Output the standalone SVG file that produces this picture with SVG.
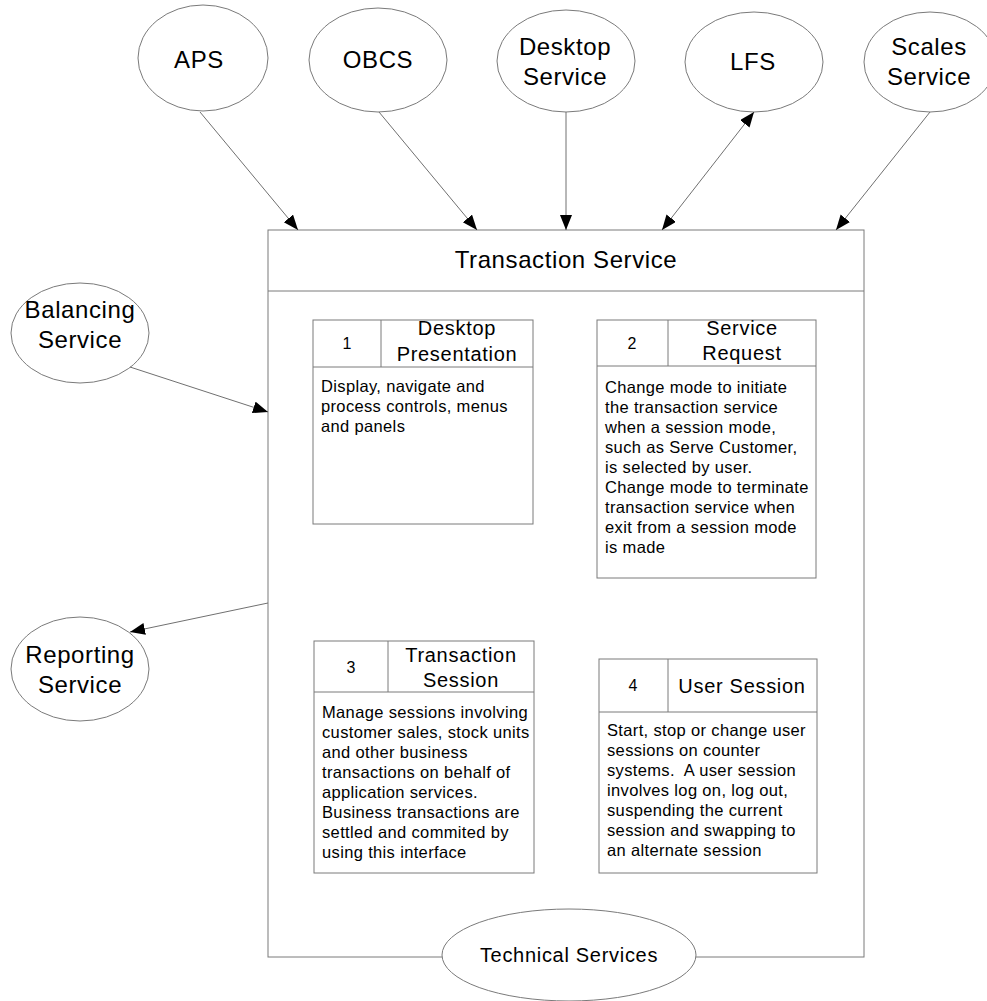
<svg xmlns="http://www.w3.org/2000/svg" width="987" height="1001" viewBox="0 0 987 1001">
  <style>
    .shape { fill: #ffffff; stroke: #7a7a7a; stroke-width: 1; }
    .rule { fill: none; stroke: #7a7a7a; stroke-width: 1; }
    .conn { fill: none; stroke: #707070; stroke-width: 1; }
    text { font-family: "Liberation Sans", Arial, sans-serif; fill: #000000; white-space: pre; }
    .big { font-size: 24px; letter-spacing: 0.6px; text-anchor: middle; }
    .head { font-size: 20px; letter-spacing: 0.7px; text-anchor: middle; }
    .num { font-size: 16px; text-anchor: middle; }
    .body { font-size: 16.5px; letter-spacing: 0.35px; }
  </style>
  <defs>
    <marker id="arrow" markerUnits="userSpaceOnUse" markerWidth="16" markerHeight="14" refX="15" refY="6" orient="auto-start-reverse">
      <path d="M0,0 L15,6 L0,12 Z" fill="#000000"/>
    </marker>
  </defs>

  <!-- Transaction Service container -->
  <g id="transaction-service">
    <rect class="shape" x="268" y="230" width="596" height="727"/>
    <line class="rule" x1="268" y1="291" x2="864" y2="291"/>
    <text class="big" x="566" y="268">Transaction Service</text>
  </g>

  <!-- Component 1 -->
  <g id="desktop-presentation">
    <rect class="shape" x="313" y="320" width="220" height="204"/>
    <line class="rule" x1="313" y1="367" x2="533" y2="367"/>
    <line class="rule" x1="381" y1="320" x2="381" y2="367"/>
    <text class="num" x="347" y="349">1</text>
    <text class="head" x="457" y="335">Desktop</text>
    <text class="head" x="457" y="361">Presentation</text>
    <text class="body" x="321" y="392">Display, navigate and</text>
    <text class="body" x="321" y="412">process controls, menus</text>
    <text class="body" x="321" y="432">and panels</text>
  </g>

  <!-- Component 2 -->
  <g id="service-request">
    <rect class="shape" x="597" y="320" width="219" height="258"/>
    <line class="rule" x1="597" y1="366" x2="816" y2="366"/>
    <line class="rule" x1="668" y1="320" x2="668" y2="366"/>
    <text class="num" x="632" y="349">2</text>
    <text class="head" x="742" y="335">Service</text>
    <text class="head" x="742" y="360">Request</text>
    <text class="body" x="605" y="393">Change mode to initiate</text>
    <text class="body" x="605" y="413">the transaction service</text>
    <text class="body" x="605" y="433">when a session mode,</text>
    <text class="body" x="605" y="453">such as Serve Customer,</text>
    <text class="body" x="605" y="473">is selected by user.</text>
    <text class="body" x="605" y="493">Change mode to terminate</text>
    <text class="body" x="605" y="513">transaction service when</text>
    <text class="body" x="605" y="533">exit from a session mode</text>
    <text class="body" x="605" y="553">is made</text>
  </g>

  <!-- Component 3 -->
  <g id="transaction-session">
    <rect class="shape" x="314" y="641" width="220" height="232"/>
    <line class="rule" x1="314" y1="692" x2="534" y2="692"/>
    <line class="rule" x1="388" y1="641" x2="388" y2="692"/>
    <text class="num" x="351" y="673">3</text>
    <text class="head" x="461" y="662">Transaction</text>
    <text class="head" x="461" y="687">Session</text>
    <text class="body" x="322" y="718">Manage sessions involving</text>
    <text class="body" x="322" y="738">customer sales, stock units</text>
    <text class="body" x="322" y="758">and other business</text>
    <text class="body" x="322" y="778">transactions on behalf of</text>
    <text class="body" x="322" y="798">application services.</text>
    <text class="body" x="322" y="818">Business transactions are</text>
    <text class="body" x="322" y="838">settled and commited by</text>
    <text class="body" x="322" y="858">using this interface</text>
  </g>

  <!-- Component 4 -->
  <g id="user-session">
    <rect class="shape" x="599" y="659" width="218" height="214"/>
    <line class="rule" x1="599" y1="712" x2="817" y2="712"/>
    <line class="rule" x1="668" y1="659" x2="668" y2="712"/>
    <text class="num" x="633" y="691">4</text>
    <text class="head" x="742" y="693">User Session</text>
    <text class="body" x="607" y="736">Start, stop or change user</text>
    <text class="body" x="607" y="756">sessions on counter</text>
    <text class="body" x="607" y="776">systems.  A user session</text>
    <text class="body" x="607" y="796">involves log on, log out,</text>
    <text class="body" x="607" y="816">suspending the current</text>
    <text class="body" x="607" y="836">session and swapping to</text>
    <text class="body" x="607" y="856">an alternate session</text>
  </g>

  <!-- External services -->
  <g id="aps">
    <ellipse class="shape" cx="203" cy="58" rx="65" ry="53"/>
    <text class="big" x="199" y="68">APS</text>
  </g>
  <g id="obcs">
    <ellipse class="shape" cx="378" cy="60" rx="69" ry="52"/>
    <text class="big" x="378" y="68">OBCS</text>
  </g>
  <g id="desktop-service">
    <ellipse class="shape" cx="566" cy="61" rx="69" ry="51"/>
    <text class="big" x="565" y="55">Desktop</text>
    <text class="big" x="565" y="85">Service</text>
  </g>
  <g id="lfs">
    <ellipse class="shape" cx="754" cy="62" rx="69" ry="50"/>
    <text class="big" x="753" y="70">LFS</text>
  </g>
  <g id="scales-service">
    <ellipse class="shape" cx="930" cy="62" rx="66" ry="50"/>
    <text class="big" x="929" y="55">Scales</text>
    <text class="big" x="929" y="85">Service</text>
  </g>
  <g id="balancing-service">
    <ellipse class="shape" cx="80" cy="333" rx="69" ry="50"/>
    <text class="big" x="80" y="318">Balancing</text>
    <text class="big" x="80" y="348">Service</text>
  </g>
  <g id="reporting-service">
    <ellipse class="shape" cx="80" cy="669" rx="69" ry="52"/>
    <text class="big" x="80" y="663">Reporting</text>
    <text class="big" x="80" y="693">Service</text>
  </g>
  <g id="technical-services">
    <ellipse class="shape" cx="569" cy="955" rx="127" ry="46"/>
    <text class="head" x="569" y="962">Technical Services</text>
  </g>

  <!-- Connectors -->
  <g id="connectors">
    <line class="conn" x1="200" y1="112" x2="298" y2="230" marker-end="url(#arrow)"/>
    <line class="conn" x1="379" y1="112" x2="477" y2="230" marker-end="url(#arrow)"/>
    <line class="conn" x1="566" y1="112" x2="566" y2="230" marker-end="url(#arrow)"/>
    <line class="conn" x1="662" y1="230" x2="754" y2="112" marker-start="url(#arrow)" marker-end="url(#arrow)"/>
    <line class="conn" x1="930" y1="112" x2="836" y2="230" marker-end="url(#arrow)"/>
    <line class="conn" x1="130" y1="367" x2="268" y2="412" marker-end="url(#arrow)"/>
    <line class="conn" x1="268" y1="603" x2="130" y2="632" marker-end="url(#arrow)"/>
  </g>
</svg>
